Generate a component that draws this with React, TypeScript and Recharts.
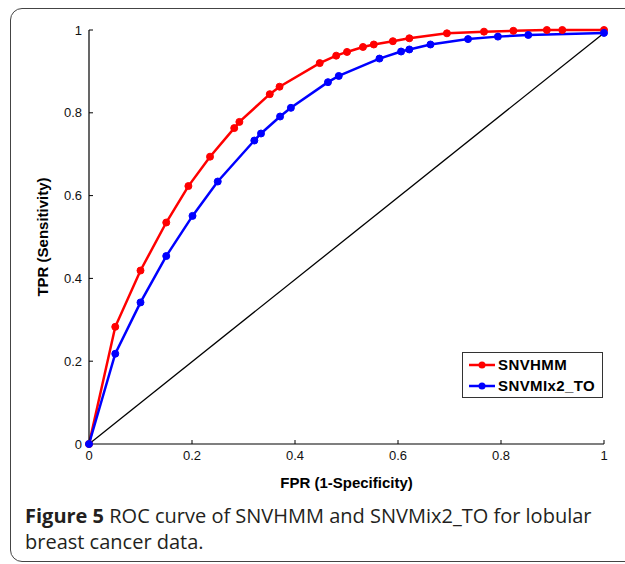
import { LineChart, Line, XAxis, YAxis } from "recharts";

// values
const hmmFpr = [0, 0.051, 0.1, 0.15, 0.193, 0.235, 0.282, 0.292, 0.351, 0.37, 0.448, 0.48, 0.501, 0.532, 0.553, 0.59, 0.622, 0.695, 0.767, 0.824, 0.889, 0.919, 1];
const hmmTpr = [0, 0.283, 0.419, 0.535, 0.623, 0.694, 0.763, 0.778, 0.845, 0.863, 0.92, 0.938, 0.947, 0.959, 0.965, 0.973, 0.98, 0.992, 0.996, 0.998, 1, 1, 1];

const mixFpr = [0, 0.051, 0.1, 0.15, 0.201, 0.25, 0.321, 0.334, 0.371, 0.392, 0.464, 0.485, 0.564, 0.606, 0.622, 0.663, 0.736, 0.794, 0.853, 1];
const mixTpr = [0, 0.218, 0.342, 0.454, 0.551, 0.634, 0.733, 0.75, 0.791, 0.812, 0.874, 0.889, 0.931, 0.948, 0.953, 0.965, 0.978, 0.984, 0.988, 0.993];

const diagFpr = [0, 1];
const diagTpr = [0, 0.993];

const ticks = [0, 0.2, 0.4, 0.6, 0.8, 1];

const toPoints = (xs: number[], ys: number[]) => xs.map((x, i) => ({ x, y: ys[i] }));

const hmmData = toPoints(hmmFpr, hmmTpr);
const mixData = toPoints(mixFpr, mixTpr);
const diagData = toPoints(diagFpr, diagTpr);

const tickStyle = { fontFamily: "'Liberation Sans', Arial, sans-serif", fontSize: 13, fill: "#111" };
const titleStyle = { fontFamily: "'Liberation Sans', Arial, sans-serif", fontSize: 15, fontWeight: 700, fill: "#000" };

const LegendRow = ({ color, label }: { color: string; label: string }) => (
    <div style={{ display: "flex", alignItems: "center", height: 21 }}>
        <svg width={30} height={12} style={{ marginLeft: 4 }}>
            <line x1={2} y1={6} x2={28} y2={6} stroke={color} strokeWidth={2.5} />
            <circle cx={15} cy={6} r={3.5} fill={color} />
        </svg>
        <span style={{ marginLeft: 1, fontFamily: "'Liberation Sans', Arial, sans-serif", fontSize: 15, fontWeight: 700, letterSpacing: 0.4 }}>{label}</span>
    </div>
);

export default function App() {
    return (
        <div style={{ position: "absolute", left: 0, top: 0, width: 625, height: 564, overflow: "hidden", background: "#fff" }}>
            <div style={{ position: "absolute", left: 10, top: 8, width: 660, height: 554, border: "1.5px solid #444", borderRadius: 12, boxSizing: "border-box" }} />
            <div style={{ position: "absolute", left: 0, top: 0 }}>
                <LineChart width={625} height={564} margin={{ top: 30, right: 21, bottom: 42, left: 0 }}>
                    <XAxis
                        type="number"
                        dataKey="x"
                        domain={[0, 1]}
                        ticks={ticks}
                        height={78}
                        tickSize={-4}
                        tickMargin={11}
                        tick={tickStyle}
                        stroke="#000"
                        axisLine={{ stroke: "#000", strokeWidth: 1.2 }}
                        tickLine={{ stroke: "#000" }}
                        label={{ value: "FPR (1-Specificity)", position: "center", dy: 0, style: titleStyle }}
                    />
                    <YAxis
                        type="number"
                        dataKey="y"
                        domain={[0, 1]}
                        ticks={ticks}
                        width={89}
                        tickSize={-4}
                        tickMargin={11}
                        tick={tickStyle}
                        stroke="#000"
                        axisLine={{ stroke: "#000", strokeWidth: 1.2 }}
                        tickLine={{ stroke: "#000" }}
                        label={{ value: "TPR (Sensitivity)", angle: -90, position: "center", dx: -2, style: titleStyle }}
                    />
                    <Line data={diagData} dataKey="y" stroke="#000" strokeWidth={1.3} dot={false} isAnimationActive={false} />
                    <Line data={hmmData} dataKey="y" stroke="#ff0000" strokeWidth={2.5} dot={{ r: 3.5, fill: "#ff0000", stroke: "#ff0000", strokeWidth: 1 }} isAnimationActive={false} />
                    <Line data={mixData} dataKey="y" stroke="#0000ff" strokeWidth={2.5} dot={{ r: 3.5, fill: "#0000ff", stroke: "#0000ff", strokeWidth: 1 }} isAnimationActive={false} />
                </LineChart>
            </div>
            <div style={{ position: "absolute", left: 462, top: 352, width: 141, height: 46, border: "1px solid #333", boxSizing: "border-box", background: "#fff", paddingTop: 1 }}>
                <LegendRow color="#ff0000" label="SNVHMM" />
                <LegendRow color="#0000ff" label="SNVMIx2_TO" />
            </div>
            <div style={{ position: "absolute", left: 25, top: 503, fontFamily: "'Open Sans', sans-serif", fontSize: 20, lineHeight: "26px", color: "#231f20", whiteSpace: "nowrap" }}>
                <div><b>Figure 5</b> ROC curve of SNVHMM and SNVMix2_TO for lobular</div>
                <div>breast cancer data.</div>
            </div>
        </div>
    );
}
